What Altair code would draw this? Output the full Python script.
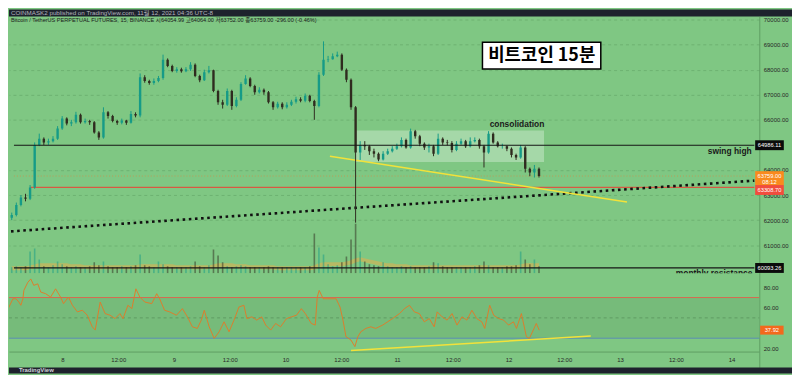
import altair as alt
import pandas as pd

BG = "#7fc783"
DARK = "#1e222d"
UP = "#169b87"
DOWN = "#2f2b1f"

# ---------------- data ----------------
hours = list(range(-12, 104))  # hourly candles, hours after Nov 8 00:00
first_open = 62100
closes = [
    62200, 62600, 62900, 62850, 63300, 65000, 65250, 65100, 65150, 65250, 65650, 66050,
    65850, 65900, 66200, 65900, 65950, 65900, 65500, 65300, 66300, 66150, 65950, 65880,
    65970, 65880, 66230, 66170, 67700, 67550, 67470, 67550, 67670, 68400, 68150, 67950,
    68020, 67940, 68020, 68200, 67750, 67580, 67900, 67980, 67150, 66700, 66600, 67150,
    66550, 66800, 67430, 67650, 67350, 67100, 67200, 67100, 66700, 66500, 66640, 66500,
    66600, 66720, 66820, 66760, 66960, 66750, 66550, 67800, 68400, 68420, 68540, 68600,
    68000, 67600, 66500, 64700, 65000, 64950, 64750, 64650, 64420, 64650, 64750, 64850,
    64950, 65200, 64900, 65550, 65350, 65050, 64900, 64950, 64650, 65250, 65100, 65080,
    64800, 65050, 65150, 64950, 65150, 65200, 64950, 64700, 65450, 65100, 64950, 64950,
    64850, 64600, 64500, 64900, 64050, 63900, 64050, 63759,
]
highs = [
    62300, 62700, 63000, 63050, 63400, 65100, 65450, 65300, 65250, 65350, 65750, 66150,
    66100, 66000, 66320, 66250, 66050, 66000, 65950, 65550, 66500, 66350, 66200, 66000,
    66050, 66000, 66350, 66300, 67850, 67780, 67600, 67650, 67750, 68600, 68450, 68200,
    68100, 68080, 68100, 68300, 68250, 67800, 68000, 68150, 68000, 67200, 66800, 67250,
    67200, 66900, 67500, 67780, 67700, 67400, 67300, 67250, 67150, 66750, 66720, 66700,
    66700, 66800, 66920, 66900, 67050, 67000, 66800, 67900, 69130, 68550, 68650, 68720,
    68650, 68050, 67650, 66550, 65150, 65150, 65000, 64850, 64700, 64750, 64850, 64950,
    65050, 65300, 65250, 65650, 65600, 65400, 65100, 65050, 65000, 65450, 65300, 65200,
    65150, 65150, 65250, 65200, 65300, 65300, 65250, 65000, 65550, 65500, 65150, 65050,
    64980, 64900, 64650, 65000, 64950, 64100, 64200, 64100,
]
lows = [
    62000, 62150, 62550, 62750, 62800, 63250, 64950, 65000, 65000, 65100, 65200, 65600,
    65780, 65750, 65850, 65850, 65850, 65800, 65450, 65200, 65250, 66050, 65900, 65800,
    65820, 65800, 65850, 66100, 66100, 67480, 67400, 67400, 67500, 67600, 68100, 67900,
    67880, 67880, 67900, 67950, 67700, 67500, 67550, 67850, 67100, 66600, 66450, 66550,
    66400, 66500, 66750, 67400, 67300, 67000, 67050, 67000, 66650, 66400, 66450, 66420,
    66450, 66550, 66650, 66700, 66700, 66700, 66000, 66500, 67750, 68300, 68400, 68500,
    67950, 67500, 66400, 61900, 64400, 64800, 64600, 64500, 64350, 64380, 64600, 64700,
    64800, 64900, 64850, 64850, 65250, 64950, 64800, 64700, 64550, 64600, 65000, 64980,
    64700, 64750, 65000, 64880, 64900, 65100, 64850, 64100, 64650, 65050, 64900, 64850,
    64750, 64500, 64400, 64450, 63900, 63750, 63700, 63700,
]
volumes = [
    6, 7, 6, 7, 22, 25, 14, 7, 6, 8, 12, 9,
    7, 6, 7, 6, 6, 7, 11, 8, 12, 7, 6, 6,
    7, 6, 7, 8, 19, 8, 7, 6, 12, 9, 7, 6,
    6, 6, 6, 7, 12, 7, 6, 8, 24, 18, 11, 7,
    6, 7, 8, 7, 6, 6, 6, 6, 7, 6, 6, 6,
    6, 6, 6, 6, 6, 7, 40, 26, 19, 9, 7, 8,
    11, 17, 34, 50, 22, 12, 9, 8, 7, 11, 7, 6,
    6, 7, 6, 7, 6, 6, 6, 7, 11, 10, 7, 6,
    6, 6, 6, 6, 6, 7, 8, 12, 8, 6, 6, 6,
    7, 7, 8, 22, 14, 9, 14, 7,
]
volume_ma = [
    5, 5, 5, 5, 6, 7, 8, 8, 8, 8, 8, 8,
    8, 7, 7, 7, 6, 6, 6, 6, 6, 6, 6, 6,
    6, 6, 6, 6, 7, 7, 7, 7, 7, 7, 7, 7,
    6, 6, 6, 6, 6, 6, 6, 6, 7, 8, 8, 8,
    8, 7, 7, 7, 6, 6, 6, 6, 6, 6, 5, 5,
    5, 5, 5, 5, 5, 5, 6, 8, 9, 9, 9, 9,
    9, 10, 11, 13, 14, 13, 12, 11, 10, 9, 8, 8,
    7, 7, 7, 6, 6, 6, 6, 6, 6, 6, 6, 6,
    6, 6, 6, 6, 6, 6, 6, 6, 6, 6, 6, 6,
    6, 6, 6, 7, 8, 8, 8, 8,
]
rsi_hours = [
    -12.16, -11.52, -10.67, -10.03, -9.39, -8.96, -8.53, -8.32, -7.47, -6.83,
    -6.19, -5.33, -4.69, -3.63, -2.56, -1.49, -0.43, 0.21, 1.28, 2.13,
    3.2, 4.27, 5.33, 6.4, 7.04, 8.11, 9.17, 10.24, 11.31, 12.37,
    13.01, 14.08, 14.93, 15.79, 16.64, 17.71, 19.2, 20.27, 20.91, 21.97,
    23.04, 24.53, 25.81, 26.88, 27.95, 29.01, 29.87, 30.51, 31.57, 32.64,
    33.71, 34.77, 35.84, 36.91, 37.97, 39.04, 39.68, 40.75, 41.81, 42.88,
    43.73, 44.8, 45.87, 46.93, 48.21, 49.28, 50.35, 51.41, 52.27, 52.91,
    53.55, 54.4, 54.83, 55.25, 56.11, 57.6, 58.88, 59.73, 60.37, 61.01,
    62.08, 62.93, 63.57, 64.21, 65.28, 66.35, 67.41, 68.91, 69.97, 71.04,
    72.53, 73.6, 74.67, 75.73, 76.8, 77.87, 78.93, 80, 80.64, 81.71,
    82.77, 83.84, 84.91, 85.97, 87.04, 88.11, 89.17, 90.24, 90.88, 91.95,
    92.8, 93.87, 94.93, 96, 97.07, 97.71, 98.77, 99.84, 100.48, 101.33,
    101.97, 102.61,
]
rsi_values = [
    52.6, 60.7, 68.8, 68.8, 65.6, 62.4, 68.8, 77, 85, 88.3,
    82, 83.5, 75.4, 73.8, 70.5, 78.6, 70.5, 64, 70.5, 62.4,
    55.9, 57.5, 52.6, 41.2, 38, 65.6, 54.2, 52.6, 49.3, 54.2,
    49.3, 62.4, 59.1, 78.6, 70.5, 65.6, 64, 73.8, 68.8, 57.5,
    55.9, 52.6, 59.1, 51, 41.2, 39.6, 47.8, 57.5, 41.2, 29.8,
    36.3, 46.1, 36.3, 47.8, 60.7, 62.4, 49.3, 51, 47.8, 51,
    42.9, 38, 44.5, 41.2, 49.3, 51, 52.6, 59.1, 54.2, 49.3,
    44.5, 42.9, 70.5, 77, 68.8, 68.8, 68.8, 60.7, 47.8, 31.5,
    28.2, 21.7, 31.5, 36.3, 39.6, 41.2, 39.6, 42.9, 46.1, 49.3,
    54.2, 59.1, 62.4, 55.9, 54.2, 46.1, 49.3, 41.2, 55.9, 51,
    47.8, 54.2, 42.9, 51, 47.8, 57.5, 49.3, 46.1, 39.6, 62.4,
    52.6, 49.3, 47.8, 42.9, 46.1, 39.6, 54.2, 31.5, 29.8, 38,
    44.5, 37.92,
]

price_ticks = [61000, 62000, 63000, 64000, 66000, 67000, 68000, 69000, 70000]
rsi_ticks = [20, 60, 80]
time_ticks = [0, 12, 24, 36, 48, 60, 72, 84, 96, 108, 120, 132, 144]
time_labels = ["8", "12:00", "9", "12:00", "10", "12:00", "11", "12:00",
               "12", "12:00", "13", "12:00", "14"]

swing_high = 64986.11
monthly_res = 60093.26
support_red = 63308.70
last_price = 63759.00
last_rsi = 37.92
black_trend = ([-12.16, 149.97], [61553, 63577])
yellow_trend = ([57.4, 122.2], [64545, 62727])
rsi_trend = ([62.1, 113.7], [17.8, 32.1])

header_text = "COINMASK2 published on TradingView.com, 11월 12, 2021 04:36 UTC-8"
legend_text = ("Bitcoin / TetherUS PERPETUAL FUTURES, 15, BINANCE   시64054.99  고64064.00  "
               "저63752.00  종63759.00  -296.00 (-0.46%)")

# ---------------- geometry ----------------
FULL_W = 790
W = 757
H_HEAD, H_PRICE, H_RSI, H_FOOT = 7, 259, 95, 6
X0, XE = -11.52, 149.97
P_DOMAIN = [59881, 70119]
R_DOMAIN = [1.22, 93.9]
BOX_A, BOX_B, BOX_M = 150.15, 156.4, 153.27
FONT = "Liberation Sans"

opens = [first_open] + closes[:-1]
candles = pd.DataFrame({"h": hours, "open": opens, "close": closes, "high": highs,
                        "low": lows, "vol": volumes, "vma": volume_ma})
candles["dir"] = ["up" if c >= o else "down" for o, c in zip(opens, closes)]
rsi_df = pd.DataFrame({"h": rsi_hours, "rsi": rsi_values})

xs = alt.Scale(domain=[X0, XE], nice=False, zero=False)
ps = alt.Scale(domain=P_DOMAIN, nice=False, zero=False)
rs = alt.Scale(domain=R_DOMAIN, nice=False, zero=False)
dir_color = alt.Color("dir:N", scale=alt.Scale(domain=["up", "down"], range=[UP, DOWN]), legend=None)

price_axis = alt.Axis(orient="right", values=price_ticks, format=".2f", title=None, ticks=False,
                      labelPadding=4, labelFontSize=6, labelFont=FONT, labelColor="#262626",
                      domain=True, domainColor="#5f9f63", grid=True, gridColor="#69ad6d",
                      gridDash=[3, 3], gridOpacity=0.8, labelOverlap=False)
rsi_axis = alt.Axis(orient="right", values=rsi_ticks, format=".2f", title=None, ticks=False,
                    labelPadding=4, labelFontSize=6, labelFont=FONT, labelColor="#262626",
                    domain=True, domainColor="#5f9f63", grid=False, labelOverlap=False)
expr = " : ".join(f"datum.value == {t} ? '{l}'" for t, l in zip(time_ticks, time_labels)) + " : ''"
time_axis = alt.Axis(orient="bottom", offset=-16, values=time_ticks, labelExpr=expr, title=None,
                     ticks=False, labelPadding=5, labelFontSize=6, labelFont=FONT,
                     labelColor="#262626", domain=True, domainColor="#5f9f63", grid=False,
                     labelOverlap=False, labelFlush=False)


def XP(f="h"):
    return alt.X(f"{f}:Q", scale=xs, axis=None)


def XR(f="h"):
    return alt.X(f"{f}:Q", scale=xs, axis=time_axis)


def PY(f):
    return alt.Y(f"{f}:Q", scale=ps, axis=price_axis)


def RY(f):
    return alt.Y(f"{f}:Q", scale=rs, axis=rsi_axis)


def hline(value, start, color, width=1.0, dash=None, opacity=1.0):
    df = pd.DataFrame({"a": [start], "b": [XE], "p": [value]})
    kw = {"strokeDash": dash} if dash else {}
    return alt.Chart(df).mark_rule(color=color, strokeWidth=width, opacity=opacity, **kw).encode(
        x=XP("a"), x2=alt.X2("b"), y=PY("p"))


# ---------------- price pane ----------------
consol = alt.Chart(pd.DataFrame({"a": [62.9], "b": [104.1], "lo": [64320], "hi": [65573]})).mark_rect(
    color="white", opacity=0.3).encode(x=XP("a"), x2=alt.X2("b"), y=PY("lo"), y2=alt.Y2("hi"))

lvl_swing = hline(swing_high, X0, "#161616", 1.2)
lvl_month = hline(monthly_res, X0, "#161616", 1.2)
lvl_red = hline(support_red, -7.9, "#ee3f33", 1.0)
lvl_last = hline(last_price, X0, "#e8803a", 1.0, [1, 2], 0.6)

bt = pd.DataFrame({"h": black_trend[0], "p": black_trend[1]})
black_line = alt.Chart(bt).mark_line(color="#111111", strokeWidth=2.6, strokeDash=[2.6, 3.6],
                                     clip=True).encode(x=XP(), y=PY("p"))
yt = pd.DataFrame({"h": yellow_trend[0], "p": yellow_trend[1]})
yellow_line = alt.Chart(yt).mark_line(color="#f2e23a", strokeWidth=1.5, clip=True).encode(x=XP(), y=PY("p"))

cbase = alt.Chart(candles)
wicks = cbase.mark_rule(strokeWidth=1, clip=True).encode(x=XP(), y=PY("low"), y2=alt.Y2("high"), color=dir_color)
bodies = cbase.mark_bar(size=2.4, clip=True).encode(x=XP(), y=PY("open"), y2=alt.Y2("close"), color=dir_color)

title_box = alt.Chart(pd.DataFrame({"a": [90.67], "b": [116.48], "lo": [68024], "hi": [69091]})).mark_rect(
    fill="white", stroke="black", strokeWidth=1.5).encode(x=XP("a"), x2=alt.X2("b"), y=PY("lo"), y2=alt.Y2("hi"))
title_txt = alt.Chart(pd.DataFrame({"h": [103.6], "p": [68557], "t": ["비트코인 15분"]})).mark_text(
    font="Noto Sans CJK KR", fontSize=18, fontWeight="bold", color="black", baseline="middle").encode(
    x=XP(), y=PY("p"), text="t:N")

notes = pd.DataFrame({"h": [98.2, 144.6], "p": [65850, 64743], "t": ["consolidation", "swing high"]})
notes_txt = alt.Chart(notes).mark_text(font=FONT, fontSize=8.5, fontWeight="bold", color="#1a1a1a",
                                       baseline="middle").encode(x=XP(), y=PY("p"), text="t:N")
month_txt = alt.Chart(pd.DataFrame({"h": [141.2], "p": [59901], "t": ["monthly resistance"]})).mark_text(
    font=FONT, fontSize=8.5, fontWeight="bold", color="#1a1a1a", baseline="middle", clip=True).encode(
    x=XP(), y=PY("p"), text="t:N")

boxes = pd.DataFrame({
    "a": [BOX_A] * 4, "b": [BOX_B] * 4,
    "lo": [64790, 63400, 63004, 59895],
    "hi": [65185, 63953, 63400, 60291],
    "fill": ["#0b0b0b", "#f98a1e", "#f24c3d", "#0b0b0b"],
})
box_rects = alt.Chart(boxes).mark_rect().encode(
    x=XP("a"), x2=alt.X2("b"), y=PY("lo"), y2=alt.Y2("hi"), color=alt.Color("fill:N", scale=None))
box_lbl = pd.DataFrame({
    "h": [BOX_M] * 5,
    "p": [swing_high, last_price, 63538, 63202, monthly_res],
    "t": ["64986.11", "63759.00", "08:12", "63308.70", "60093.26"],
})
box_txt = alt.Chart(box_lbl).mark_text(font=FONT, fontSize=5.8, color="white", baseline="middle").encode(
    x=XP(), y=PY("p"), text="t:N")

legend_txt = alt.Chart(pd.DataFrame({"t": [legend_text]})).mark_text(
    font=FONT + ", Noto Sans CJK KR", fontSize=5.6, color="#1b1b1b", align="left", baseline="middle").encode(
    x=alt.value(2), y=alt.value(3.2), text="t:N")

vs = alt.Scale(domain=[0, H_PRICE], nice=False, zero=True)
vol_ma = cbase.mark_line(color="#c9b45a", strokeWidth=4, opacity=0.75, clip=True).encode(
    x=XP(), y=alt.Y("vma:Q", scale=vs, axis=None))
vol_bars = cbase.mark_bar(size=1.6, opacity=0.5, clip=True).encode(
    x=XP(), y=alt.Y("vol:Q", scale=vs, axis=None), color=dir_color)

price_layers = alt.layer(consol, lvl_last, lvl_red, black_line, yellow_line, wicks, bodies,
                         lvl_swing, lvl_month, title_box, title_txt, notes_txt, month_txt,
                         box_rects, box_txt, legend_txt)
price_pane = alt.layer(alt.layer(vol_ma, vol_bars), price_layers).resolve_scale(y="independent").properties(
    width=W, height=H_PRICE)

# ---------------- RSI pane ----------------
band = alt.Chart(pd.DataFrame({"a": [X0], "b": [XE], "lo": [30], "hi": [70]})).mark_rect(
    color="#74b878", opacity=0.8).encode(x=XR("a"), x2=alt.X2("b"), y=RY("lo"), y2=alt.Y2("hi"))


def rline(value, color, dash=None):
    df = pd.DataFrame({"a": [X0], "b": [XE], "v": [value]})
    kw = {"strokeDash": dash} if dash else {}
    return alt.Chart(df).mark_rule(color=color, strokeWidth=1, **kw).encode(
        x=XR("a"), x2=alt.X2("b"), y=RY("v"))


r70 = rline(70, "#d9674f")
r50 = rline(50, "#5f9c63", [3, 3])
r30 = rline(30, "#5b8db3")
rt = pd.DataFrame({"h": rsi_trend[0], "v": rsi_trend[1]})
rsi_tl = alt.Chart(rt).mark_line(color="#f2e23a", strokeWidth=1.5, clip=True).encode(x=XR(), y=RY("v"))
rsi_line = alt.Chart(rsi_df).mark_line(color="#dc7d2d", strokeWidth=1, clip=True).encode(x=XR(), y=RY("rsi"))
rsi_box = alt.Chart(pd.DataFrame({"a": [BOX_A], "b": [BOX_B - 1.2], "lo": [last_rsi - 4.4],
                                  "hi": [last_rsi + 4.4]})).mark_rect(color="#f2691c").encode(
    x=XR("a"), x2=alt.X2("b"), y=RY("lo"), y2=alt.Y2("hi"))
rsi_box_txt = alt.Chart(pd.DataFrame({"h": [BOX_M - 0.6], "v": [last_rsi], "t": ["37.92"]})).mark_text(
    font=FONT, fontSize=5.8, color="white", baseline="middle").encode(x=XR(), y=RY("v"), text="t:N")

rsi_pane = alt.layer(band, r70, r50, r30, rsi_line, rsi_tl, rsi_box, rsi_box_txt).properties(
    width=W, height=H_RSI)

# ---------------- header / footer ----------------
head = alt.Chart(pd.DataFrame({"t": [header_text]})).mark_text(
    font=FONT + ", Noto Sans CJK KR", fontSize=6.3, color="#b2b5be", align="left", baseline="middle").encode(
    x=alt.value(2), y=alt.value(3.5), text="t:N").properties(
    width=FULL_W, height=H_HEAD, view=alt.ViewBackground(fill=DARK, strokeWidth=0))
foot = alt.Chart(pd.DataFrame({"t": ["TradingView"]})).mark_text(
    font=FONT, fontSize=6, fontWeight="bold", color="#d1d4dc", align="left", baseline="middle").encode(
    x=alt.value(10), y=alt.value(3), text="t:N").properties(
    width=FULL_W, height=H_FOOT, view=alt.ViewBackground(fill=DARK, strokeWidth=0))

chart = alt.vconcat(head, price_pane, rsi_pane, foot, spacing=0, padding=0, background=BG).configure_view(
    strokeWidth=0)

chart.save("out.html", embed_options={"renderer": "svg", "actions": False})
